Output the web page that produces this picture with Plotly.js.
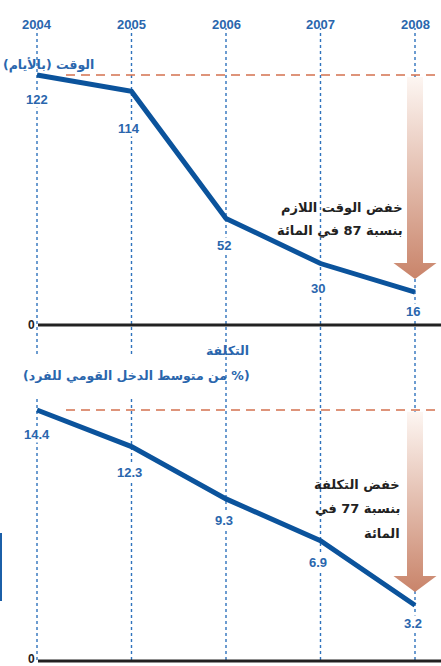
<!DOCTYPE html>
<html><head><meta charset="utf-8">
<script src="https://cdn.plot.ly/plotly-3.0.1.min.js"></script>
<style>html,body{margin:0;padding:0;background:#fff}#c{width:441px;height:666px}</style>
</head><body><div id="c"></div>
<script>
const years = [2004, 2005, 2006, 2007, 2008];
const timeDays = [122, 114, 52, 30, 16];
const costPct = [14.4, 12.3, 9.3, 6.9, 3.2];
const timeLabels = ['122', '114', '52', '30', '16'];
const costLabels = ['14.4', '12.3', '9.3', '6.9', '3.2'];

const W = 441, H = 666;
const py = p => 1 - p / H;           // pixel -> paper y
const px = p => p / W;               // pixel -> paper x
const rtl = s => '\u202B' + s + '\u202C';
const BLUE = '#0b539c', TXT = '#2a66ad', RED = '#d4724f';
const NUMF = {family: 'Liberation Sans, Arial, sans-serif', size: 13, color: TXT, weight: 700};
const ARF = {family: 'DejaVu Sans, sans-serif', size: 12.5, color: TXT, weight: 700};
const ARD = {family: 'DejaVu Sans, sans-serif', size: 13, color: '#222', weight: 700};

// x: 2004 -> 37px, 2008 -> 415px
const pxPerYear = (415 - 37) / 4;
const xr = [2004 - 37 / pxPerYear, 2008 + (W - 415) / pxPerYear];
// top panel: 0 -> 325px, 122 -> 75px
const k1 = 250 / 122;
const y1r = [-(335 - 325) / k1, (325 - 40) / k1];
// bottom panel: 0 -> 661px, 14.4 -> 410px
const k2 = 251 / 14.4;
const y2r = [-(666 - 661) / k2, (661 - 395) / k2];

// arrow geometry (decoration)
const sw = 8 / pxPerYear, hw = 21.5 / pxPerYear;
const last = years.length - 1;
function arrow(topV, headV, tipV) {
  const xc = years[last];
  return {
    x: [xc - sw, xc + sw, xc + sw, xc + hw, xc, xc - hw, xc - sw, xc - sw],
    y: [topV, topV, headV, headV, tipV, headV, headV, topV]
  };
}
const a1 = arrow(timeDays[0] - 1, (325 - 263) / k1, (325 - 279) / k1);
const a2 = arrow(costPct[0] - 0.1, (661 - 576) / k2, (661 - 592) / k2);
const grad = {type: 'vertical', colorscale: [[0, '#c9846a'], [1, '#fdf6f2']]};

const traces = [
  {x: a1.x, y: a1.y, xaxis: 'x', yaxis: 'y', mode: 'none', fill: 'toself', fillgradient: grad, hoverinfo: 'skip'},
  {x: a2.x, y: a2.y, xaxis: 'x2', yaxis: 'y2', mode: 'none', fill: 'toself', fillgradient: grad, hoverinfo: 'skip'},
  {x: years, y: timeDays, xaxis: 'x', yaxis: 'y', mode: 'lines', line: {color: BLUE, width: 5}},
  {x: years, y: costPct, xaxis: 'x2', yaxis: 'y2', mode: 'lines', line: {color: BLUE, width: 5}}
];

const shapes = [];
// vertical dotted year lines
years.forEach((yr, i) => {
  const segs = i < 2 ? [[28, 354], [396, 660]] : [[28, 660]];
  segs.forEach(s => shapes.push({type: 'line', xref: 'x', yref: 'paper', x0: yr, x1: yr,
    y0: py(s[1]), y1: py(s[0]), line: {color: '#2f73bd', width: 1.4, dash: 'dot'}, layer: 'below'}));
});
// dashed reference lines at start values
shapes.push({type: 'line', xref: 'paper', yref: 'y', x0: px(66), x1: 1, y0: timeDays[0], y1: timeDays[0],
  line: {color: RED, width: 1.4, dash: '9px,6px'}, layer: 'below'});
shapes.push({type: 'line', xref: 'paper', yref: 'y2', x0: px(66), x1: 1, y0: costPct[0], y1: costPct[0],
  line: {color: RED, width: 1.4, dash: '9px,6px'}, layer: 'below'});
// zero baselines
shapes.push({type: 'line', xref: 'paper', yref: 'y', x0: px(38), x1: 1, y0: 0, y1: 0, line: {color: '#222', width: 3}});
shapes.push({type: 'line', xref: 'paper', yref: 'y2', x0: px(38), x1: 1, y0: 0, y1: 0, line: {color: '#222', width: 3}});
// cropped edge fragment
shapes.push({type: 'rect', xref: 'paper', yref: 'paper', x0: 0, x1: px(2), y0: py(601), y1: py(533),
  fillcolor: '#1b5fa8', line: {width: 0}});

const ann = [];
years.forEach(yr => ann.push({x: yr, y: py(15), xref: 'x', yref: 'paper', text: String(yr),
  showarrow: false, font: NUMF}));
const tOff = [[0, 25], [-3, 37], [-2, 27], [-3, 25], [-2, 19]];
const cOff = [[0, 24], [-2, 26], [-2, 22], [-3, 22], [-2, 18]];
years.forEach((yr, i) => {
  ann.push({x: yr, y: timeDays[i], xref: 'x', yref: 'y', text: timeLabels[i], showarrow: false,
    xshift: tOff[i][0], yshift: -tOff[i][1], font: NUMF, bgcolor: '#fff', borderpad: 0});
  ann.push({x: yr, y: costPct[i], xref: 'x2', yref: 'y2', text: costLabels[i], showarrow: false,
    xshift: cOff[i][0], yshift: -cOff[i][1], font: NUMF, bgcolor: '#fff', borderpad: 0});
});
const ZF = {family: 'Liberation Sans, Arial, sans-serif', size: 12, color: '#222', weight: 700};
ann.push({x: px(31), y: 0, xref: 'paper', yref: 'y', text: '0', showarrow: false, xanchor: 'center', font: ZF});
ann.push({x: px(31), y: 0, xref: 'paper', yref: 'y2', text: '0', showarrow: false, xanchor: 'center', yshift: 2, font: ZF});
// titles
ann.push({x: px(96), y: py(55), xref: 'paper', yref: 'paper', text: rtl('الوقت (بالأيام)'), showarrow: false, xanchor: 'right', font: ARF});
ann.push({x: px(251), y: py(351), xref: 'paper', yref: 'paper', text: rtl('التكلفة'), showarrow: false, xanchor: 'right', font: ARF});
ann.push({x: px(252), y: py(375), xref: 'paper', yref: 'paper', text: rtl('(% من متوسط الدخل القومي للفرد)'), showarrow: false, xanchor: 'right', font: ARF});
// reduction notes
ann.push({x: px(405), y: py(198), xref: 'paper', yref: 'paper', text: rtl('خفض الوقت اللازم'), showarrow: false, xanchor: 'right', font: ARD});
ann.push({x: px(405), y: py(230), xref: 'paper', yref: 'paper', text: rtl('بنسبة 87 في المائة'), showarrow: false, xanchor: 'right', font: ARD});
ann.push({x: px(402), y: py(494), xref: 'paper', yref: 'paper', text: rtl('خفض التكلفة'), showarrow: false, xanchor: 'right', font: ARD});
ann.push({x: px(402), y: py(518), xref: 'paper', yref: 'paper', text: rtl('بنسبة 77 في'), showarrow: false, xanchor: 'right', font: ARD});
ann.push({x: px(402), y: py(543), xref: 'paper', yref: 'paper', text: rtl('المائة'), showarrow: false, xanchor: 'right', font: ARD});

const ax = {range: xr, visible: false, fixedrange: true};
const layout = {
  width: W, height: H, margin: {l: 0, r: 0, t: 0, b: 0},
  paper_bgcolor: '#fff', plot_bgcolor: 'rgba(0,0,0,0)', showlegend: false,
  xaxis: Object.assign({anchor: 'y'}, ax),
  xaxis2: Object.assign({anchor: 'y2', matches: 'x'}, ax),
  yaxis: {range: y1r, domain: [py(335), py(40)], visible: false, anchor: 'x'},
  yaxis2: {range: y2r, domain: [0, py(395)], visible: false, anchor: 'x2'},
  shapes: shapes, annotations: ann
};
Plotly.newPlot('c', traces, layout, {staticPlot: true, displayModeBar: false});
</script></body></html>
